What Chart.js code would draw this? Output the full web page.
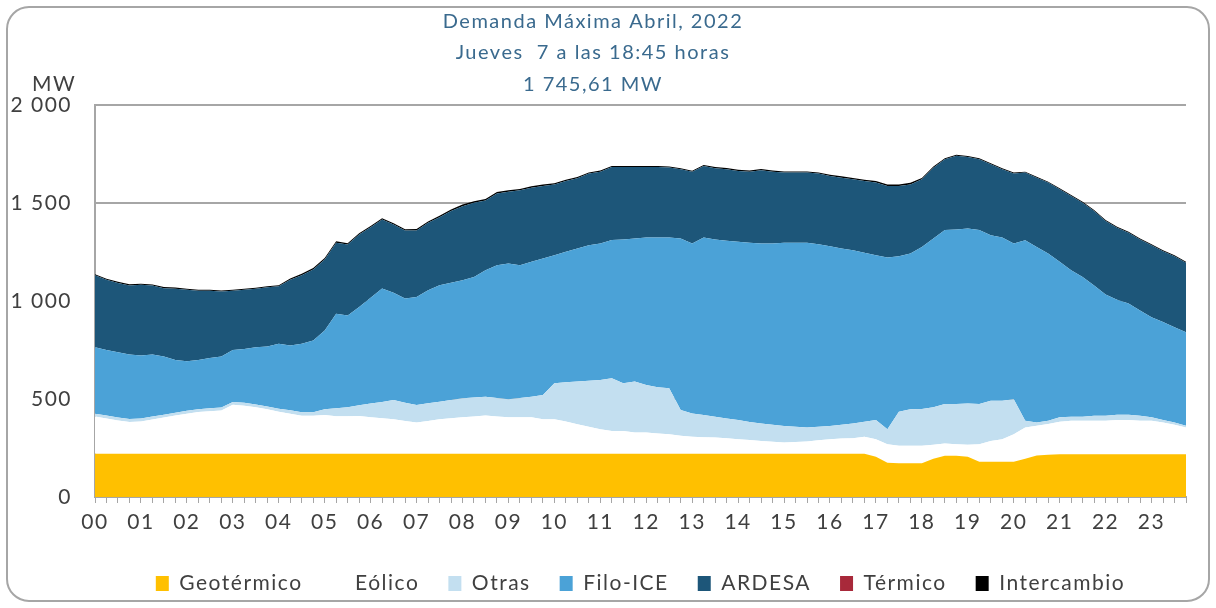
<!DOCTYPE html>
<html>
<head>
<meta charset="utf-8">
<script src="https://cdn.jsdelivr.net/npm/chart.js@4.4.1/dist/chart.umd.min.js"></script>
<style>
  html, body { margin: 0; padding: 0; background: #fff; }
  #marco { width: 1216px; height: 608px; position: relative; }
</style>
</head>
<body>
<div id="marco"><canvas id="grafico" width="1216" height="608"></canvas></div>
<script>
// etiquetas del eje x (horas) y cuartos de hora
const horas = ['00','01','02','03','04','05','06','07','08','09','10','11',
               '12','13','14','15','16','17','18','19','20','21','22','23'];
const cuartos = ['00','15','30','45'];

// MW por cuarto de hora, 00:00 a 23:45
const geotermico = [
  220,220,220,220,220,220,220,220,220,220,220,220,
  220,220,220,220,220,220,220,220,220,220,220,220,
  220,220,220,220,220,220,220,220,220,220,220,220,
  220,220,220,220,220,220,220,220,220,220,220,220,
  220,220,220,220,220,220,220,220,220,220,220,220,
  220,220,220,220,220,220,220,220,205,175,172,172,
  172,195,210,210,205,180,180,180,180,195,212,215,
  218,218,218,218,218,218,218,218,218,218,218,218];
const eolico = [
  190,180,170,163,165,175,185,195,205,213,217,221,
  250,245,237,227,215,204,194,194,198,192,192,193,
  186,182,177,168,160,168,177,182,186,190,195,190,
  186,186,186,177,177,165,151,138,126,117,117,109,
  109,104,100,92,87,85,83,79,75,70,66,62,
  58,60,63,69,75,78,80,87,90,94,89,89,
  89,71,63,59,61,89,106,115,140,160,151,157,
  166,171,171,171,171,174,174,171,171,162,150,137];
const otras = [
  15,15,15,15,15,15,15,15,15,15,15,15,
  15,15,15,15,15,18,18,18,30,40,45,55,
  71,83,97,92,89,90,89,93,97,97,96,95,
  92,99,105,123,183,200,218,235,251,269,243,260,
  242,235,234,131,119,113,106,101,97,93,89,86,
  84,78,72,69,67,70,75,77,97,76,174,186,
  188,191,201,205,211,205,205,196,179,34,17,17,
  22,20,20,25,25,27,27,25,17,12,12,8];
const filoICE = [
  339,335,333,328,321,316,296,269,252,251,257,260,
  265,275,292,305,331,330,349,366,401,482,469,501,
  539,578,547,532,551,576,594,597,602,615,645,677,
  692,677,688,696,653,665,678,691,696,704,733,729,
  752,764,769,875,867,905,904,906,909,913,918,925,
  934,938,941,931,917,899,883,861,841,876,793,794,
  826,861,887,890,892,887,844,832,793,920,895,852,
  793,747,713,665,619,587,567,537,511,500,486,477];
const ardesa = [
  367,358,353,353,361,353,349,363,365,353,343,332,
  302,302,298,302,293,336,350,362,362,362,361,369,
  360,352,349,347,339,344,347,366,378,378,356,365,
  367,382,378,370,361,361,358,365,366,373,370,365,
  360,360,357,353,366,365,363,365,361,363,373,366,
  358,358,358,360,358,361,362,366,370,365,358,353,
  345,361,361,376,365,361,362,348,357,345,353,362,
  370,379,378,379,374,367,361,362,367,361,362,354];
const termico = [
  0,0,0,0,0,0,0,0,0,0,0,0,
  0,0,0,0,0,0,0,0,0,0,0,0,
  0,0,0,0,0,0,0,0,0,0,0,0,
  0,0,0,0,0,0,0,0,0,0,0,0,
  0,0,0,0,0,0,0,0,0,0,0,0,
  0,0,0,0,0,0,0,0,0,0,0,0,
  0,0,0,0,0,0,0,0,0,0,0,0,
  0,0,0,0,0,0,0,0,0,0,0,0];
const intercambio = [
  5,5,6,6,5,5,6,6,5,5,5,5,
  5,5,5,5,6,6,7,7,8,8,7,7,
  6,6,6,6,7,7,7,8,8,8,8,8,
  7,7,7,7,6,6,6,6,6,5,5,5,
  5,5,5,5,5,5,6,6,6,6,6,6,
  6,6,6,6,6,7,7,7,8,8,8,8,
  7,6,5,5,5,5,5,5,5,5,5,5,
  5,5,5,5,5,5,5,5,5,5,5,5];

const titulo = ['Demanda Máxima Abril, 2022', 'Jueves  7 a las 18:45 horas', '1 745,61 MW'];

const categorias = [];
horas.forEach(h => cuartos.forEach(c => categorias.push(h + ':' + c)));

const gris = '#404040';
const fuente = 'Lato';

function serie(nombre, datos, color, relleno) {
  return {
    label: nombre,
    data: datos,
    backgroundColor: color,
    borderColor: color,
    borderWidth: 0,
    pointRadius: 0,
    tension: 0,
    fill: relleno
  };
}

// espaciado de letras y marco redondeado
const marco = {
  id: 'marco',
  beforeUpdate(chart) { chart.ctx.letterSpacing = '1.5px'; },
  beforeDraw(chart) {
    const c = chart.ctx;
    c.letterSpacing = '1.5px';
    c.save();
    c.strokeStyle = '#a6a6a6';
    c.lineWidth = 2;
    c.beginPath();
    c.roundRect(7, 7, 1202, 594, 22);
    c.stroke();
    c.restore();
  },
  afterDraw(chart) {
    const c = chart.ctx;
    c.save();
    c.fillStyle = gris;
    c.font = '21px ' + fuente;
    c.textAlign = 'center';
    c.textBaseline = 'alphabetic';
    c.fillText('MW', 54, 91);
    c.restore();
  }
};

new Chart(document.getElementById('grafico'), {
  type: 'line',
  data: {
    labels: categorias,
    datasets: [
      serie('Geotérmico', geotermico, '#FFC000', 'origin'),
      serie('Eólico', eolico, '#FFFFFF', '-1'),
      serie('Otras', otras, '#C3DFF0', '-1'),
      serie('Filo-ICE', filoICE, '#4BA2D7', '-1'),
      serie('ARDESA', ardesa, '#1D5679', '-1'),
      serie('Térmico', termico, '#A8293A', '-1'),
      serie('Intercambio', intercambio, '#000000', '-1')
    ]
  },
  options: {
    responsive: false,
    animation: false,
    devicePixelRatio: 1,
    layout: { padding: { left: 0, right: 30, top: 0, bottom: 4 } },
    scales: {
      x: {
        afterFit(scale) { scale.height = 47; },
        grid: {
          drawOnChartArea: false,
          drawTicks: true,
          tickLength: 6,
          color: '#a6a6a6',
          lineWidth: 1
        },
        border: { color: '#a6a6a6', width: 2 },
        ticks: {
          autoSkip: false,
          maxRotation: 0,
          padding: 7,
          color: gris,
          font: { family: fuente, size: 21 },
          callback(v) {
            const t = this.getLabelForValue(v);
            return t.endsWith(':00') ? t.slice(0, 2) : '';
          }
        }
      },
      y: {
        stacked: true,
        min: 0,
        max: 2000,
        afterFit(scale) { scale.width = 95; },
        grid: { drawTicks: false, color: '#a6a6a6', lineWidth: 2 },
        border: { color: '#a6a6a6', width: 2 },
        ticks: {
          stepSize: 500,
          padding: 23,
          color: gris,
          font: { family: fuente, size: 21 },
          callback(v) {
            return v >= 1000 ? Math.floor(v / 1000) + ' ' + String(v % 1000).padStart(3, '0') : String(v);
          }
        }
      }
    },
    plugins: {
      title: {
        display: true,
        text: titulo,
        color: '#3A6A8E',
        font: { family: fuente, size: 20, weight: 'normal', lineHeight: 1.5625 },
        padding: { top: 6, bottom: 5 }
      },
      legend: {
        position: 'bottom',
        fullSize: false,
        maxHeight: 68,
        labels: {
          boxWidth: 13,
          boxHeight: 15,
          padding: 29,
          color: gris,
          font: { family: fuente, size: 21 }
        }
      },
      tooltip: { enabled: false },
      filler: { propagate: false }
    }
  },
  plugins: [marco]
});
</script>
</body>
</html>
